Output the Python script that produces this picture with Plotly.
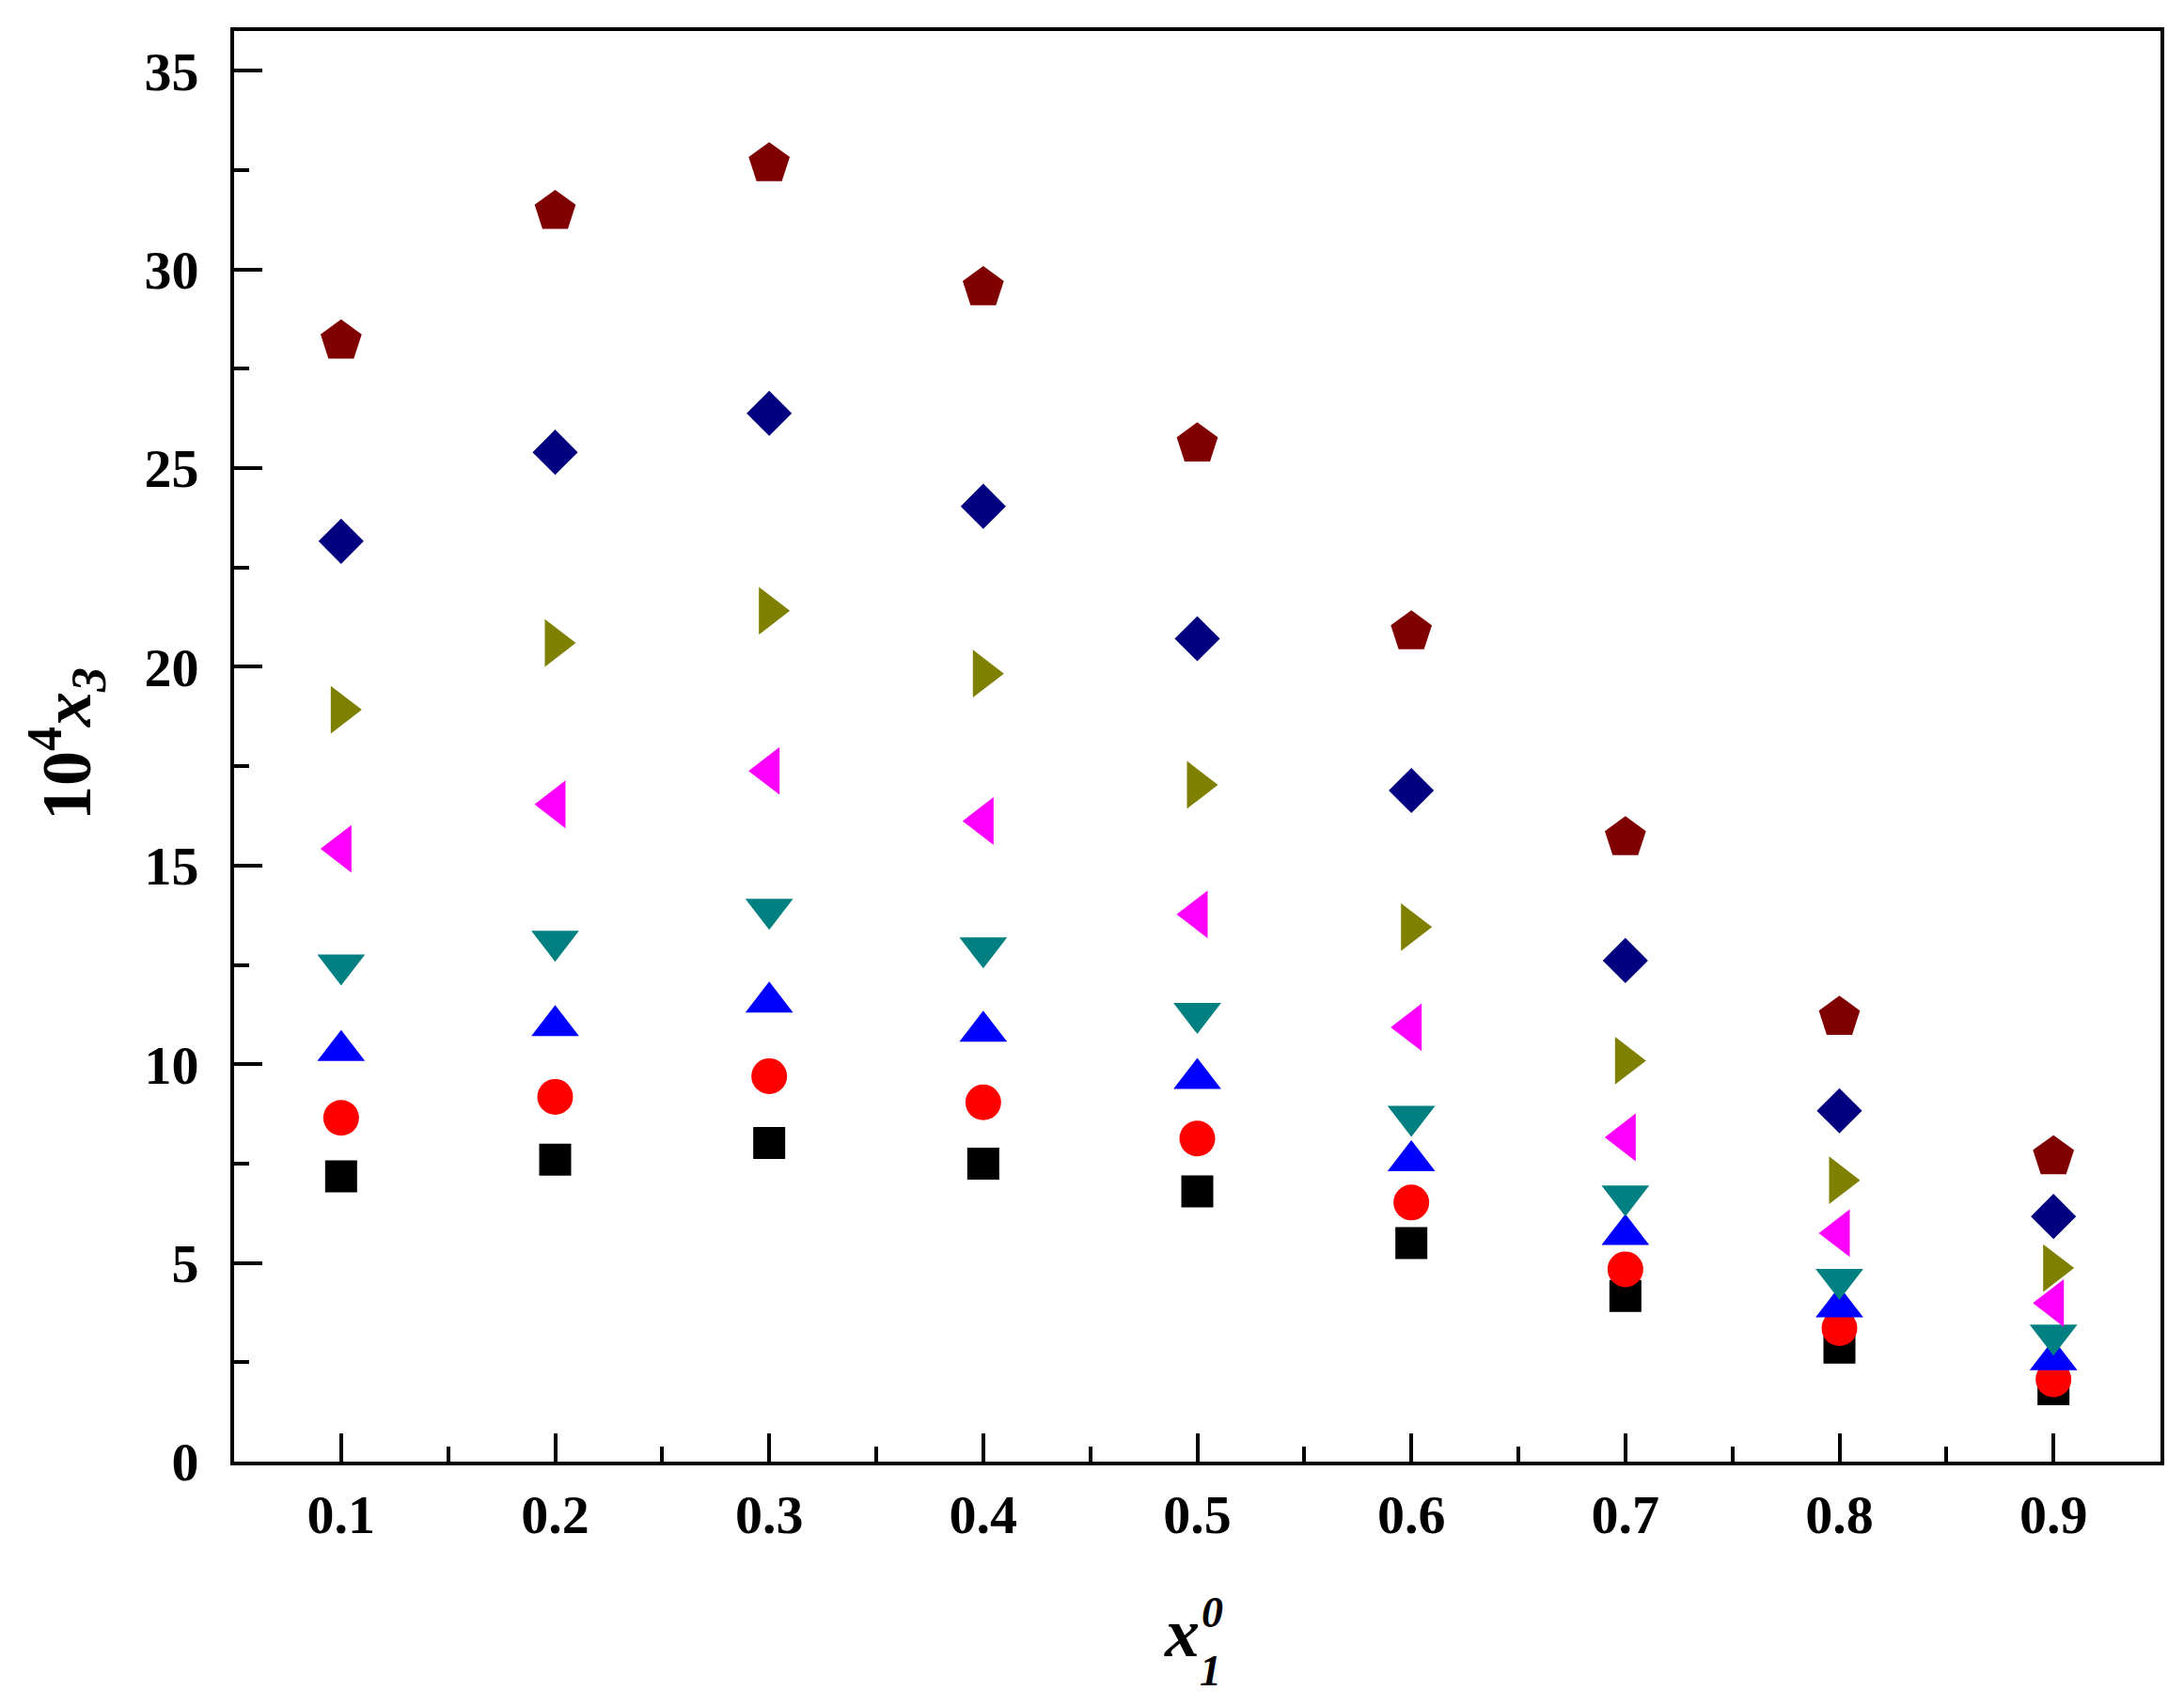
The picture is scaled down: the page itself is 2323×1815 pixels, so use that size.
import plotly.graph_objects as go

x1_0 = [0.1, 0.2, 0.3, 0.4, 0.5, 0.6, 0.7, 0.8, 0.9]

# 10^4 x3 values for each series
s_square = [7.18, 7.60, 8.02, 7.50, 6.80, 5.50, 4.17, 2.87, 1.82]
s_circle = [8.65, 9.18, 9.70, 9.04, 8.13, 6.52, 4.84, 3.36, 2.07]
s_tri_up = [10.34, 10.97, 11.56, 10.83, 9.64, 7.57, 5.71, 3.89, 2.56]
s_tri_down = [12.50, 13.10, 13.90, 12.93, 11.28, 8.69, 6.69, 4.59, 3.19]
s_tri_left = [15.42, 16.54, 17.38, 16.12, 13.77, 10.93, 8.16, 5.75, 3.99]
s_tri_right = [18.92, 20.60, 21.41, 19.83, 17.03, 13.45, 10.09, 7.08, 4.87]
s_diamond = [23.16, 25.40, 26.38, 24.04, 20.71, 16.89, 12.61, 8.83, 6.17]
s_pentagon = [28.20, 31.46, 32.66, 29.54, 25.61, 20.88, 15.70, 11.18, 7.67]

series = [
    (s_square, "square", "#000000", 34),
    (s_circle, "circle", "#FF0000", 38),
    (s_tri_up, "triangle-up", "#0000FF", 44),
    (s_tri_down, "triangle-down", "#008080", 44),
    (s_tri_left, "triangle-left", "#FF00FF", 44),
    (s_tri_right, "triangle-right", "#808000", 44),
    (s_diamond, "diamond", "#000080", 37),
    (s_pentagon, "pentagon", "#800000", 46),
]

fig = go.Figure()
for vals, sym, col, sz in series:
    fig.add_trace(go.Scatter(
        x=x1_0, y=vals, mode="markers",
        marker=dict(symbol=sym, color=col, size=sz, line=dict(width=0)),
    ))

font_family = "Liberation Serif"
axis_common = dict(
    showgrid=False,
    zeroline=False,
    showline=True,
    linecolor="black",
    linewidth=4,
    mirror=True,
    ticks="inside",
    ticklen=30,
    tickwidth=4,
    tickcolor="black",
    tickfont=dict(family=font_family, size=58, color="black", weight="bold"),
)

# page body has an 8px margin, so the plot area is shifted back by that
fig.update_layout(
    width=2323, height=1815,
    paper_bgcolor="white",
    plot_bgcolor="white",
    showlegend=False,
    margin=dict(l=241, r=33, t=25, b=268),
    xaxis=dict(
        range=[0.05, 0.95],
        tick0=0.1, dtick=0.1,
        tickformat=".1f",
        ticklabelstandoff=2,
        minor=dict(ticks="inside", ticklen=16, tickwidth=4, tickcolor="black", dtick=0.05, tick0=0.05),
        **axis_common,
    ),
    yaxis=dict(
        range=[0, 36],
        tick0=0, dtick=5,
        ticklabelstandoff=22,
        minor=dict(ticks="inside", ticklen=16, tickwidth=4, tickcolor="black", dtick=2.5, tick0=0),
        **axis_common,
    ),
)

# axis titles
title_font = dict(family=font_family, color="black", weight="bold")
fig.add_annotation(
    text="10<sup>4</sup><i>x</i><sub><i>3</i></sub>",
    xref="paper", yref="paper", x=0, y=0.5,
    xanchor="center", yanchor="middle",
    xshift=-178, yshift=2, textangle=-90,
    showarrow=False, font=dict(size=74, **title_font),
)
fig.add_annotation(
    text="<i>x</i>",
    xref="paper", yref="paper", x=0.5, y=0,
    xanchor="center", yanchor="middle",
    xshift=-17, yshift=-182,
    showarrow=False, font=dict(size=74, **title_font),
)
fig.add_annotation(
    text="<i>0</i>",
    xref="paper", yref="paper", x=0.5, y=0,
    xanchor="center", yanchor="middle",
    xshift=16, yshift=-160,
    showarrow=False, font=dict(size=46, **title_font),
)
fig.add_annotation(
    text="<i>1</i>",
    xref="paper", yref="paper", x=0.5, y=0,
    xanchor="center", yanchor="middle",
    xshift=14, yshift=-222,
    showarrow=False, font=dict(size=46, **title_font),
)

fig.write_html("out.html")
